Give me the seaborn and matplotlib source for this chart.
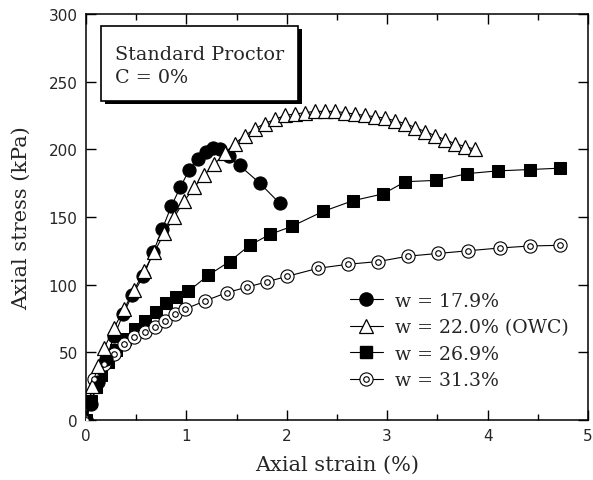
import matplotlib
matplotlib.use("Agg")
import matplotlib.pyplot as plt
import seaborn as sns
from matplotlib.lines import Line2D
from matplotlib.legend_handler import HandlerTuple
from matplotlib.patches import Rectangle
from matplotlib.ticker import MultipleLocator

# Stress-strain curves, Standard Proctor, C = 0%
strain_179 = [0, 0.05, 0.12, 0.2, 0.28, 0.37, 0.46, 0.57, 0.67, 0.76, 0.85, 0.94,
              1.03, 1.12, 1.2, 1.27, 1.33, 1.42, 1.53, 1.73, 1.93]
stress_179 = [0, 12, 28, 45, 62, 78, 92, 106, 124, 141, 158, 172,
              185, 193, 198, 201, 200, 195, 188, 175, 160]

strain_220 = [0, 0.06, 0.12, 0.18, 0.28, 0.38, 0.48, 0.58, 0.68, 0.78, 0.88, 0.98,
              1.08, 1.18, 1.28, 1.38, 1.48, 1.58, 1.68, 1.78, 1.88, 1.98, 2.08,
              2.18, 2.28, 2.38, 2.48, 2.58, 2.68, 2.78, 2.88, 2.98, 3.08, 3.18,
              3.28, 3.38, 3.48, 3.58, 3.68, 3.78, 3.87]
stress_220 = [0, 25, 40, 53, 68, 82, 96, 110, 124, 138, 150, 162,
              172, 181, 189, 197, 204, 210, 215, 219, 222, 225, 226,
              227, 228, 228, 228, 227, 226, 225, 224, 223, 221, 219,
              216, 213, 210, 207, 204, 202, 200]

strain_269 = [0, 0.05, 0.1, 0.15, 0.22, 0.3, 0.39, 0.49, 0.59, 0.7, 0.8, 0.9,
              1.02, 1.22, 1.43, 1.63, 1.83, 2.05, 2.36, 2.66, 2.96, 3.18, 3.49,
              3.8, 4.1, 4.42, 4.72]
stress_269 = [0, 14, 24, 33, 43, 52, 60, 67, 73, 80, 86, 91,
              95, 107, 117, 129, 137, 143, 154, 162, 167, 176, 177,
              182, 184, 185, 186]

strain_313 = [0, 0.08, 0.18, 0.28, 0.38, 0.48, 0.59, 0.69, 0.79, 0.89, 0.99,
              1.19, 1.40, 1.60, 1.80, 2.00, 2.31, 2.61, 2.91, 3.21, 3.51, 3.81,
              4.12, 4.42, 4.72]
stress_313 = [0, 30, 41, 49, 56, 61, 65, 69, 73, 78, 82,
              88, 94, 98, 102, 106, 112, 115, 117, 121, 123, 125,
              127, 128.5, 129]

labels = ["w = 17.9%", "w = 22.0% (OWC)", "w = 26.9%", "w = 31.3%"]
box_text = "Standard Proctor\nC = 0%"

sns.set_style("ticks")
plt.rcParams["font.family"] = ["DejaVu Serif"]

fig = plt.figure(figsize=(5.93, 4.81), dpi=100)
ax = fig.add_axes([0.145, 0.125, 0.8465, 0.844])

line_kw = dict(color="black", linewidth=0.8, sort=False, estimator=None,
               legend=False, ax=ax)

# w = 26.9 % : filled squares
sns.lineplot(x=strain_269, y=stress_269, marker="s", markersize=9.2,
             markerfacecolor="black", markeredgecolor="black", **line_kw)
# w = 31.3 % : double ring
sns.lineplot(x=strain_313, y=stress_313, marker="o", markersize=9.5,
             markerfacecolor="white", markeredgecolor="black",
             markeredgewidth=0.8, **line_kw)
sns.scatterplot(x=strain_313, y=stress_313, marker="o", s=16, color="white",
                edgecolor="black", linewidth=0.8, ax=ax, legend=False, zorder=3)
# w = 17.9 % : filled circles
sns.lineplot(x=strain_179, y=stress_179, marker="o", markersize=9.5,
             markerfacecolor="black", markeredgecolor="black", **line_kw)
# w = 22.0 % (OWC) : open triangles
sns.lineplot(x=strain_220, y=stress_220, marker="^", markersize=10.5,
             markerfacecolor="white", markeredgecolor="black",
             markeredgewidth=0.9, **line_kw)

ax.set_xlim(0, 5)
ax.set_ylim(0, 300)
ax.xaxis.set_major_locator(MultipleLocator(1))
ax.xaxis.set_minor_locator(MultipleLocator(0.5))
ax.yaxis.set_major_locator(MultipleLocator(50))
ax.tick_params(which="both", direction="in", top=True, right=True,
               width=1.0, color="black")
ax.tick_params(which="major", length=7, labelsize=11, pad=6)
ax.tick_params(which="minor", length=4)
for lab in ax.get_xticklabels() + ax.get_yticklabels():
    lab.set_family("DejaVu Sans")
for sp in ax.spines.values():
    sp.set_linewidth(1.1)
    sp.set_color("black")

ax.set_xlabel("Axial strain (%)", fontsize=15, labelpad=8)
ax.set_ylabel("Axial stress (kPa)", fontsize=15, labelpad=13)

# Title box with drop shadow
shadow = Rectangle((0.19, 233.4), 1.96, 55.4, facecolor="black",
                   edgecolor="none", zorder=5)
box = Rectangle((0.15, 235.6), 1.96, 55.4, facecolor="white",
                edgecolor="black", linewidth=1.2, zorder=6)
ax.add_patch(shadow)
ax.add_patch(box)
ax.text(0.29, 262, box_text, fontsize=13.8, va="center", ha="left",
        linespacing=1.4, zorder=7)

# Legend
h179 = Line2D([], [], color="black", lw=0.8, marker="o", markersize=9.5,
              markerfacecolor="black")
h220 = Line2D([], [], color="black", lw=0.8, marker="^", markersize=10.5,
              markerfacecolor="white", markeredgewidth=0.9)
h269 = Line2D([], [], color="black", lw=0.8, marker="s", markersize=9.2,
              markerfacecolor="black")
h313a = Line2D([], [], color="black", lw=0.8, marker="o", markersize=9.5,
               markerfacecolor="white", markeredgewidth=0.8)
h313b = Line2D([], [], color="none", marker="o", markersize=4.0,
               markerfacecolor="white", markeredgecolor="black",
               markeredgewidth=0.8)
ax.legend([h179, h220, h269, (h313a, h313b)], labels,
          handler_map={tuple: HandlerTuple(ndivide=1, pad=0)},
          loc="upper left", bbox_to_anchor=(0.525, 0.315), frameon=False,
          fontsize=13.6, handlelength=1.75, handletextpad=0.65,
          labelspacing=0.45, borderpad=0, borderaxespad=0)

fig.savefig("out.png", dpi=100)
